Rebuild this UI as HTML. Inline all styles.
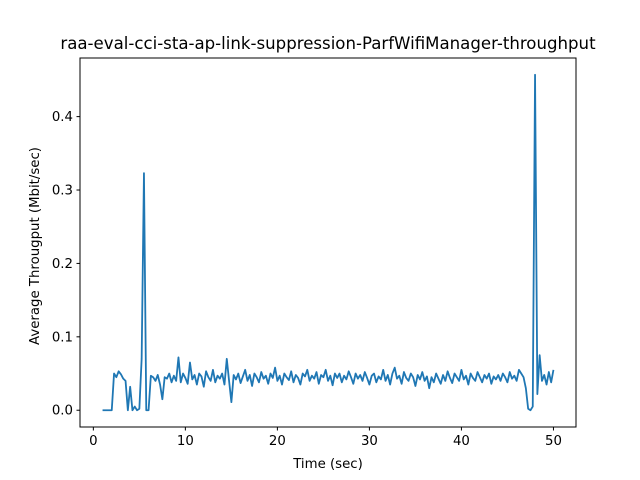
<!DOCTYPE html>
<html><head><meta charset="utf-8"><style>
body{margin:0;background:#fff;}
svg{display:block;font-family:"DejaVu Sans","Liberation Sans",sans-serif;}
</style></head><body>
<svg id="chart" width="640" height="480">
<rect x="0" y="0" width="640" height="480" fill="#fff"/>
<text x="328" y="49" text-anchor="middle" font-size="16.6">raa-eval-cci-sta-ap-link-suppression-ParfWifiManager-throughput</text>
<text x="328" y="468" text-anchor="middle" font-size="13.3">Time (sec)</text>
<text transform="translate(39,246) rotate(-90)" text-anchor="middle" font-size="13.3">Average Througput (Mbit/sec)</text>
<g id="ticks"></g>
<path id="line" fill="none" stroke="#1f77b4" stroke-width="1.8" stroke-linejoin="round"/>
<rect x="80" y="58" width="496" height="369" fill="none" stroke="#000" stroke-width="1"/>
</svg>
<script>
const tStart = 1.0;
const tStep = 0.25;
const throughput = [
0,0,0,0,0,.05,.045,.053,.049,.043,.04,0,.032,0,.005,0,.002,.07,.323,0,0,.047,
.045,.04,.048,.035,.015,.045,.043,.05,.038,.047,
.04,.072,.038,.05,.044,.036,.065,.042,.048,.035,
.05,.046,.032,.053,.045,.04,.055,.038,.047,.043,
.05,.035,.07,.04,.011,.048,.042,.05,.037,.046,
.055,.04,.048,.033,.05,.045,.038,.052,.043,.047,
.036,.05,.044,.058,.04,.047,.035,.05,.045,.041,
.053,.038,.048,.044,.035,.05,.046,.055,.04,.047,
.043,.052,.036,.048,.045,.055,.04,.047,.034,.05,
.044,.05,.038,.047,.042,.053,.045,.036,.05,.043,
.048,.04,.052,.044,.035,.047,.05,.038,.046,.042,
.055,.04,.048,.035,.05,.058,.043,.047,.036,.052,
.044,.04,.05,.045,.033,.048,.042,.052,.04,.046,
.03,.045,.038,.05,.043,.036,.048,.04,.053,.044,
.037,.05,.045,.04,.055,.042,.047,.035,.05,.044,
.04,.052,.045,.038,.048,.043,.05,.036,.046,.042,
.048,.04,.05,.045,.038,.052,.043,.047,.04,.055,
.05,
.045,.03,.002,0,.005,.457,.022,.075,.04,.048,.035,.052,.038,.055
];
const xTicks = [0,10,20,30,40,50];
const yTicks = [0.0,0.1,0.2,0.3,0.4];
const yTickLabels = ["0.0","0.1","0.2","0.3","0.4"];

const L=80,R=576,T=58,B=427;
const times = throughput.map((v,i)=>tStart+i*tStep);
const tMin=Math.min(...times), tMax=Math.max(...times);
const vMin=Math.min(...throughput), vMax=Math.max(...throughput);
const xPad=(tMax-tMin)*0.05, yPad=(vMax-vMin)*0.05;
const x0=tMin-xPad, x1=tMax+xPad, y0=vMin-yPad, y1=vMax+yPad;
const sx=t=>L+(t-x0)/(x1-x0)*(R-L);
const sy=v=>B-(v-y0)/(y1-y0)*(B-T);

let d='';
throughput.forEach((v,i)=>{d+=(i?'L':'M')+sx(times[i]).toFixed(2)+','+sy(v).toFixed(2);});
document.getElementById('line').setAttribute('d',d);

const NS='http://www.w3.org/2000/svg';
const g=document.getElementById('ticks');
xTicks.forEach(t=>{
  const x=sx(t);
  const ln=document.createElementNS(NS,'line');
  ln.setAttribute('x1',x);ln.setAttribute('x2',x);ln.setAttribute('y1',B);ln.setAttribute('y2',B+3.5);
  ln.setAttribute('stroke','#000');
  
  
  g.appendChild(ln);
  const tx=document.createElementNS(NS,'text');
  tx.setAttribute('x',x);tx.setAttribute('y',B+18);tx.setAttribute('text-anchor','middle');tx.setAttribute('font-size','13.3');
  tx.textContent=String(t);
  
  
  g.appendChild(tx);
});
yTicks.forEach((v,i)=>{
  const y=sy(v);
  const ln=document.createElementNS(NS,'line');
  ln.setAttribute('x1',L-3.5);ln.setAttribute('x2',L);ln.setAttribute('y1',y);ln.setAttribute('y2',y);
  ln.setAttribute('stroke','#000');
  
  
  g.appendChild(ln);
  const tx=document.createElementNS(NS,'text');
  tx.setAttribute('x',L-7);tx.setAttribute('y',y+4.5);tx.setAttribute('text-anchor','end');tx.setAttribute('font-size','13.3');
  tx.textContent=yTickLabels[i];
  
  
  g.appendChild(tx);
});
</script>
</body></html>
